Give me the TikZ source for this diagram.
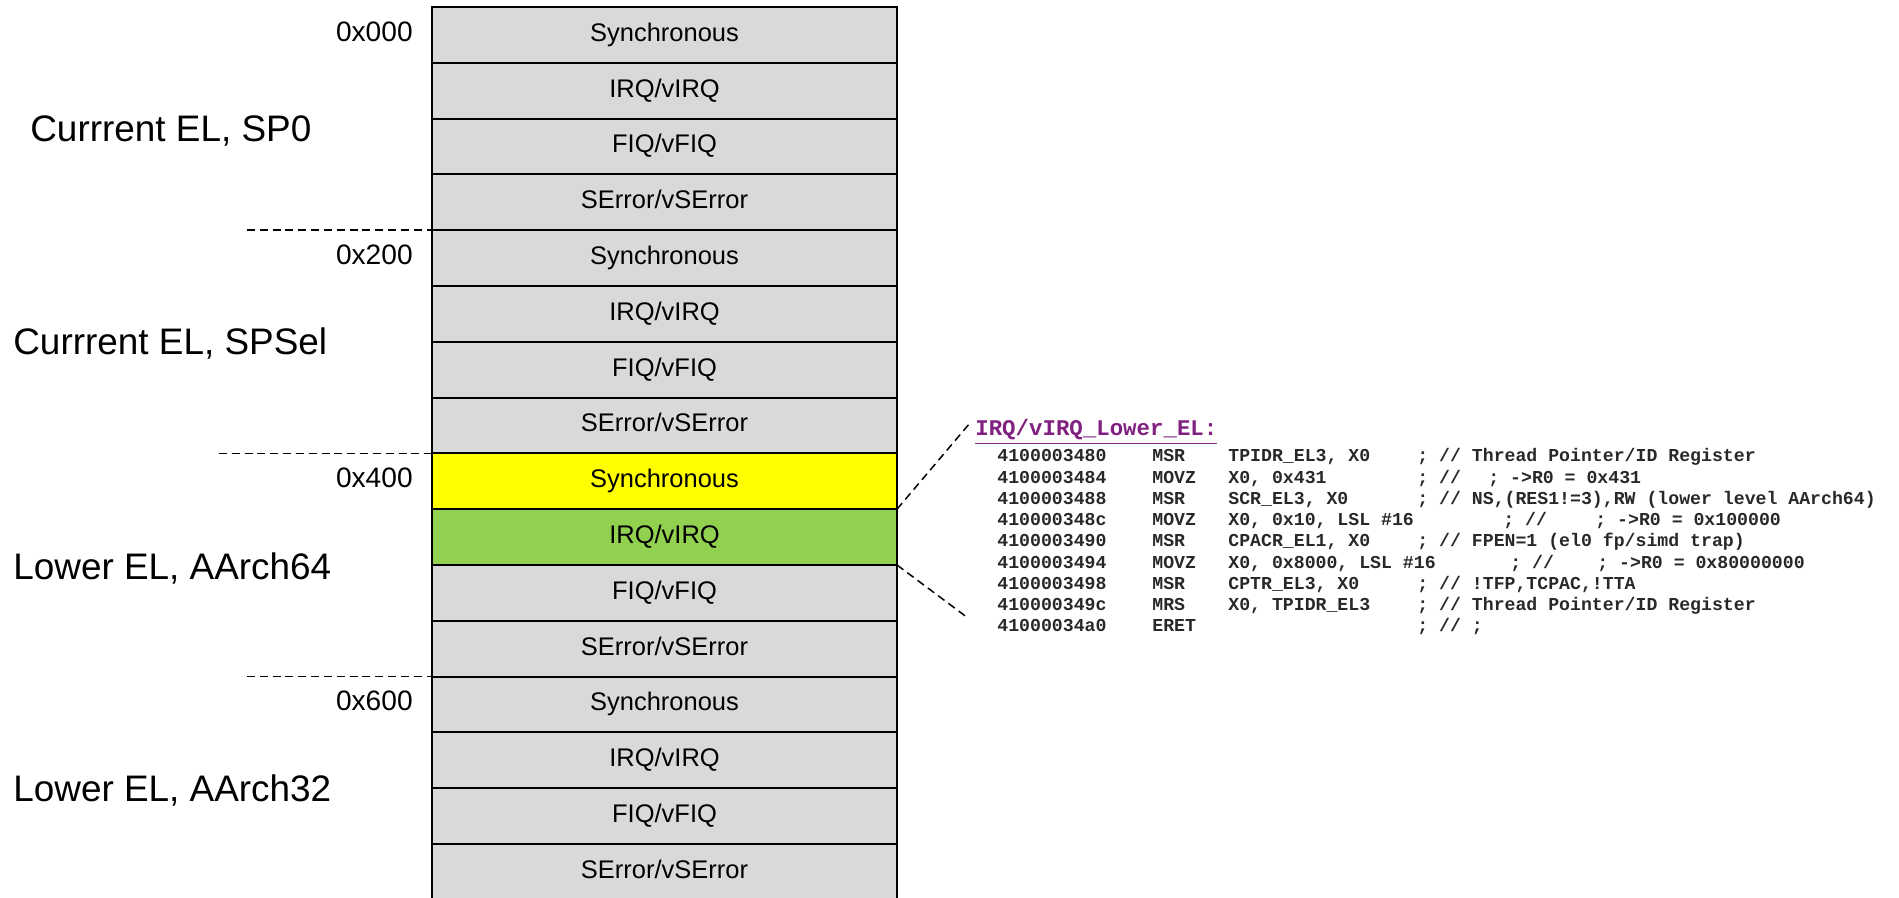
\documentclass[tikz,border=0pt]{standalone}
\usepackage{fontspec}
\setmainfont{Liberation Sans}
\setmonofont{Liberation Mono}
\usetikzlibrary{positioning}
\definecolor{rowgray}{RGB}{217,217,217}
\definecolor{syncyellow}{RGB}{255,255,0}
\definecolor{irqgreen}{RGB}{146,208,80}
\definecolor{labelpurple}{RGB}{128,32,128}
\definecolor{codeink}{RGB}{40,40,40}
\newcommand{\gapped}[3]{\makebox[#1][l]{#2}#3}

\begin{document}
\begin{tikzpicture}[
  vrow/.style={rectangle, draw=black, line width=1.1pt,
               minimum width=9.3cm, minimum height=1.116cm, outer sep=0pt,
               inner sep=0pt, text height=1.38ex, text depth=0pt,
               font=\fontsize{14.5}{17}\selectfont},
  addr/.style={inner sep=0pt, text height=1.38ex, text depth=0pt,
               font=\fontsize{16}{19}\selectfont},
  mode/.style={anchor=base west, inner sep=0pt,
               font=\fontsize{21}{25}\selectfont},
  sepline/.style={dashed, dash pattern=on 4.5pt off 2.8pt, line width=0.85pt},
  code/.style={anchor=base west, inner sep=0pt, text=codeink,
               font=\fontsize{10.35}{12}\selectfont\ttfamily\bfseries},
]
\useasboundingbox (0,0) rectangle (37.98,17.96);

% vector table: four groups of four entries
\foreach \g in {0,...,3}{
  \foreach \txt [count=\k] in {Synchronous, IRQ/vIRQ, FIQ/vFIQ, SError/vSError}{
    \pgfmathtruncatemacro\n{4*\g+\k}
    \edef\rowcol{\ifnum\n=9 syncyellow\else\ifnum\n=10 irqgreen\else rowgray\fi\fi}
    \node[vrow, fill=\rowcol] (r\n) at (13.29, {17.82-(\n-0.5)*1.116}) {\txt};
  }
}

% offsets
\node[addr, left=0.38cm of r1]  (a000) {0x000};
\node[addr, left=0.38cm of r5]  (a200) {0x200};
\node[addr, left=0.38cm of r9]  (a400) {0x400};
\node[addr, left=0.38cm of r13] (a600) {0x600};

% exception level groups
\node[mode] (sp0)   at (0.6, 15.12)  {Currrent EL, SP0};
\node[mode] (spsel) at (0.26, 10.86) {Currrent EL, SPSel};
\node[mode] (el64)  at (0.26, 6.36)  {Lower EL, AArch64};
\node[mode] (el32)  at (0.26, 1.92)  {Lower EL, AArch32};

\coordinate (s1) at ([xshift=-13cm]r4.south east);
\coordinate (s2) at ([xshift=-13.56cm]r8.south east);
\coordinate (s3) at ([xshift=-13cm]r12.south east);
\draw[sepline] (s1) -- (r4.south east);
\draw[sepline] (s2) -- (r8.south east);
\draw[sepline] (s3) -- (r12.south east);

% handler listing
\node[anchor=base west, inner sep=0pt, text=labelpurple,
      font=\fontsize{12.75}{15}\selectfont\ttfamily\bfseries]
  (irqhead) at (19.5, 9.24) {\underline{IRQ/vIRQ\_Lower\_EL:}};

\foreach \ad/\mn/\ar/\cx/\cm [count=\i] in {
  4100003480/MSR/{TPIDR\_EL3, X0}/28.34/{; // Thread Pointer/ID Register},
  4100003484/MOVZ/{X0, 0x431}/28.34/{\gapped{1.42cm}{; //}{; ->R0 = 0x431}},
  4100003488/MSR/{SCR\_EL3, X0}/28.34/{; // NS,(RES1!=3),RW (lower level AArch64)},
  410000348c/MOVZ/{X0, 0x10, LSL \#16}/30.06/{\gapped{1.84cm}{; //}{; ->R0 = 0x100000}},
  4100003490/MSR/{CPACR\_EL1, X0}/28.34/{; // FPEN=1 (el0 fp/simd trap)},
  4100003494/MOVZ/{X0, 0x8000, LSL \#16}/30.2/{\gapped{1.74cm}{; //}{; ->R0 = 0x80000000}},
  4100003498/MSR/{CPTR\_EL3, X0}/28.34/{; // !TFP,TCPAC,!TTA},
  410000349c/MRS/{X0, TPIDR\_EL3}/28.34/{; // Thread Pointer/ID Register},
  41000034a0/ERET/{}/28.34/{; // ;}
}{
  \pgfmathsetmacro\yb{8.72-(\i-1)*0.425}
  \node[code] (ad\i) at (19.94, \yb) {\ad};
  \node[code] (mn\i) at (23.04, \yb) {\mn};
  \node[code] (ar\i) at (24.56, \yb) {\ar};
  \node[code] (cm\i) at (\cx, \yb) {\cm};
}

\coordinate (cnw) at (19.4, 9.5);
\coordinate (csw) at (19.36, 5.6);
\draw[sepline] (r10.north east) -- (cnw);
\draw[sepline] (r10.south east) -- (csw);
\end{tikzpicture}
\end{document}
